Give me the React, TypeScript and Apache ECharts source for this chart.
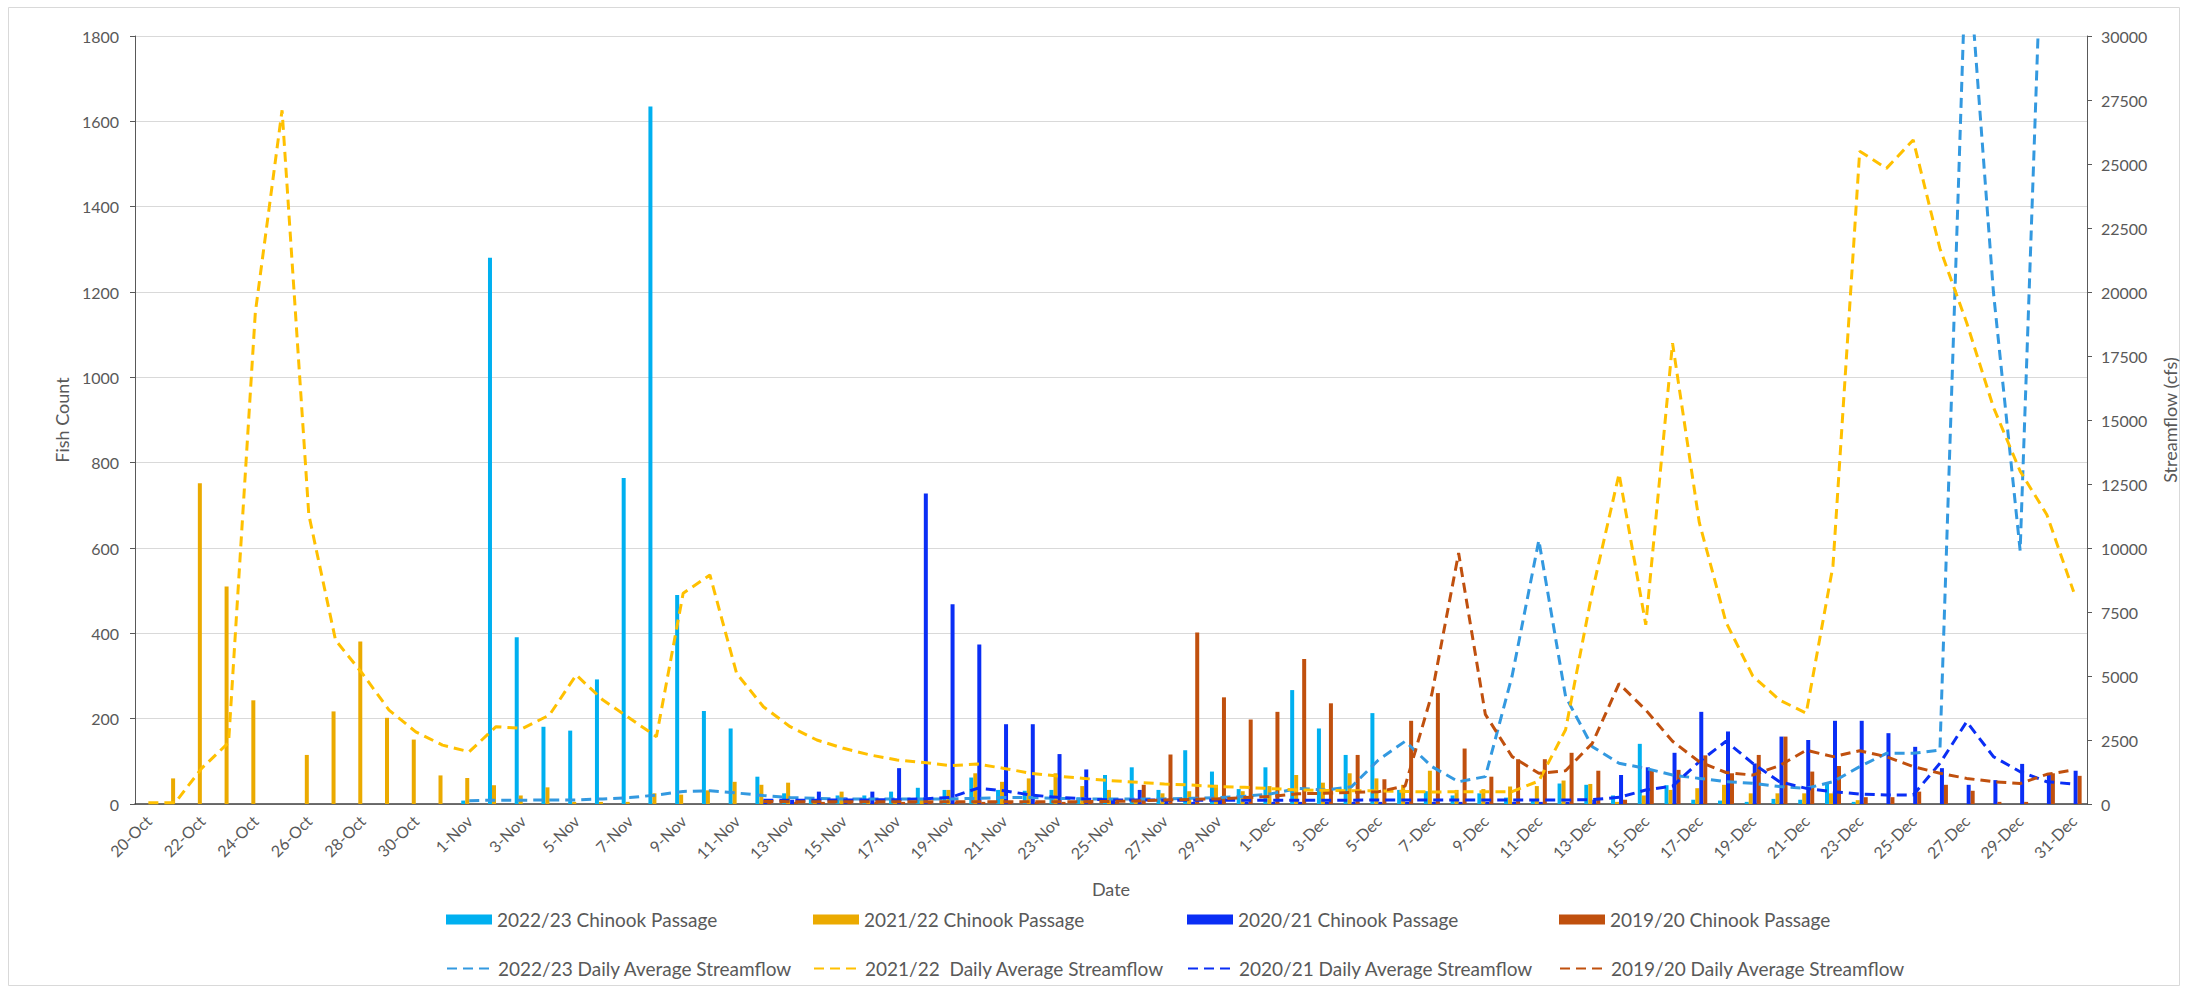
import React, { useEffect, useRef } from "react";
import * as echarts from "echarts";

const dates = [
  "20-Oct", "21-Oct", "22-Oct", "23-Oct", "24-Oct", "25-Oct", "26-Oct", "27-Oct", "28-Oct", "29-Oct", "30-Oct", "31-Oct",
  "1-Nov", "2-Nov", "3-Nov", "4-Nov", "5-Nov", "6-Nov", "7-Nov", "8-Nov", "9-Nov", "10-Nov", "11-Nov", "12-Nov",
  "13-Nov", "14-Nov", "15-Nov", "16-Nov", "17-Nov", "18-Nov", "19-Nov", "20-Nov", "21-Nov", "22-Nov", "23-Nov", "24-Nov",
  "25-Nov", "26-Nov", "27-Nov", "28-Nov", "29-Nov", "30-Nov",
  "1-Dec", "2-Dec", "3-Dec", "4-Dec", "5-Dec", "6-Dec", "7-Dec", "8-Dec", "9-Dec", "10-Dec", "11-Dec", "12-Dec",
  "13-Dec", "14-Dec", "15-Dec", "16-Dec", "17-Dec", "18-Dec", "19-Dec", "20-Dec", "21-Dec", "22-Dec", "23-Dec", "24-Dec",
  "25-Dec", "26-Dec", "27-Dec", "28-Dec", "29-Dec", "30-Dec", "31-Dec",
];

const N = null;

// Fish counts (left axis)
const passage2223 = [
  N, N, N, N, N, N, N, N, N, N, N, N,
  8, 1280, 391, 181, 172, 292, 764, 1635, 490, 218, 177, 64,
  25, 15, 20, 20, 29, 38, 33, 62, 33, 31, 33, 15,
  68, 86, 33, 126, 76, 35,
  86, 267, 177, 115, 213, 33, 30, 20, 25, 15, 10, 48,
  45, 20, 141, 44, 10, 8, 5, 12, 10, 50, 5, 0,
  0, 0, 0, 0, 0, 0, N,
];

const passage2122 = [
  0, 60, 752, 510, 243, 0, 115, 217, 381, 202, 151, 67,
  61, 44, 20, 39, 5, 5, 5, 25, 22, 32, 52, 45,
  50, 10, 29, 10, 8, 10, 33, 72, 52, 60, 72, 42,
  33, 10, 25, 30, 45, 30,
  42, 68, 50, 72, 60, 45, 78, 33, 35, 41, 42, 55,
  47, 5, 20, 33, 37, 45, 25, 25, 25, 25, 9, 0,
  0, 0, 0, 0, 0, 0, 0,
];

const passage2021 = [
  N, N, N, N, N, N, N, N, N, N, N, N,
  N, N, N, N, N, N, N, N, N, N, N, 5,
  10, 29, 15, 29, 84, 728, 468, 374, 187, 187, 117, 81,
  10, 33, 10, 5, 15, 5,
  5, 5, 5, 5, 5, 5, 5, 5, 5, 5, 5, 5,
  10, 68, 86, 120, 216, 170, 95, 158, 150, 195, 195, 166,
  134, 84, 45, 56, 94, 72, 78,
];

const passage1920 = [
  N, N, N, N, N, N, N, N, N, N, N, N,
  N, N, N, N, N, N, N, N, N, N, N, 5,
  5, 5, 5, 5, 5, 5, 5, 5, 5, 5, 5, 5,
  5, 45, 116, 402, 250, 198,
  216, 340, 236, 115, 58, 195, 260, 130, 64, 105, 105, 120,
  78, 10, 78, 80, 114, 72, 115, 158, 76, 89, 16, 16,
  29, 45, 31, 5, 5, 72, 66,
];

// Daily average streamflow, cfs (right axis)
const flow2223 = [
  N, N, N, N, N, N, N, N, N, N, N, N,
  130, 150, 150, 156, 156, 200, 250, 350, 490, 520, 430, 330,
  250, 220, 200, 200, 200, 200, 200, 220, 250, 250, 220, 200,
  200, 200, 200, 220, 250, 300,
  400, 612, 547, 677, 1720, 2450, 1460, 870, 1070, 5000, 10300, 4200,
  2240, 1590, 1390, 1130, 1000, 870, 810, 680, 612, 870, 1460, 1980,
  1980, 2110, 34000, 20000, 9900, 40000, N,
];

const flow2122 = [
  50, 50, 1400, 2400, 19200, 27100, 11300, 6400, 5100, 3670, 2820, 2300,
  2040, 3020, 2950, 3476, 5040, 4060, 3350, 2630, 8230, 8945, 5100, 3800,
  3020, 2500, 2175, 1914, 1720, 1620, 1500, 1560, 1390, 1200, 1090, 1000,
  910, 850, 780, 740, 680, 650,
  600, 550, 530, 520, 510, 490, 470, 480, 480, 480, 900, 2900,
  8300, 12900, 7000, 18000, 11000, 7100, 5000, 4060, 3550, 9300, 25500, 24830,
  25940, 21700, 18800, 15500, 13000, 11300, 8290,
];

const flow2021 = [
  N, N, N, N, N, N, N, N, N, N, N, N,
  N, N, N, N, N, N, N, N, N, N, N, 150,
  150, 150, 160, 160, 170, 200, 260, 612, 520, 350, 260, 200,
  160, 156, 150, 150, 150, 150,
  150, 150, 150, 150, 156, 156, 156, 156, 160, 160, 156, 156,
  170, 260, 547, 700, 1650, 2450, 1590, 870, 612, 482, 390, 352,
  352, 1590, 3215, 1850, 1260, 870, 780,
];

const flow1920 = [
  N, N, N, N, N, N, N, N, N, N, N, N,
  N, N, N, N, N, N, N, N, N, N, N, 100,
  90, 90, 90, 90, 90, 90, 90, 90, 90, 90, 90, 90,
  100, 120, 156, 180, 200, 250,
  300, 400, 417, 450, 482, 700, 4300, 9800, 3500, 1850, 1200, 1300,
  2370, 4700, 3670, 2450, 1650, 1230, 1130, 1500, 2100, 1850, 2080, 1850,
  1460, 1200, 1000, 870, 800, 1160, 1330,
];

const barNames = [
  "2022/23 Chinook Passage",
  "2021/22 Chinook Passage",
  "2020/21 Chinook Passage",
  "2019/20 Chinook Passage",
];
const lineNames = [
  "2022/23 Daily Average Streamflow",
  "2021/22  Daily Average Streamflow",
  "2020/21 Daily Average Streamflow",
  "2019/20 Daily Average Streamflow",
];
const barColors = ["#00B0F0", "#EBAA00", "#0A2EF5", "#C0500E"];
const lineColors = ["#3399E0", "#FFC000", "#0A2EF5", "#C0500E"];

const FONT = "Lato";
const TXT = "#595959";

export default function App() {
  const ref = useRef<HTMLDivElement>(null);

  useEffect(() => {
    if (!ref.current) return;
    const chart = echarts.init(ref.current, undefined, { renderer: "svg" });

    const barData = [passage2223, passage2122, passage2021, passage1920];
    const lineData = [flow2223, flow2122, flow2021, flow1920];

    const legendX = [446, 813, 1187, 1559];
    const legends: any[] = [];
    barNames.forEach((n, i) => {
      legends.push({
        data: [{ name: n, icon: "rect" }],
        left: legendX[i],
        top: 910,
        itemWidth: 46,
        itemHeight: 10,
        padding: 0,
        selectedMode: false,
        textStyle: { fontSize: 19, color: TXT, fontFamily: FONT },
      });
    });
    lineNames.forEach((n, i) => {
      legends.push({
        data: [{ name: n }],
        left: legendX[i],
        top: 959,
        itemWidth: 46,
        itemHeight: 14,
        padding: 0,
        selectedMode: false,
        itemStyle: { opacity: 0 },
        textStyle: { fontSize: 19, color: TXT, fontFamily: FONT },
      });
    });

    const series: any[] = [];
    barNames.forEach((n, i) => {
      series.push({
        name: n,
        type: "bar",
        yAxisIndex: 0,
        data: barData[i],
        barWidth: 4,
        barGap: "0%",
        itemStyle: { color: barColors[i] },
        z: 2,
      });
    });
    lineNames.forEach((n, i) => {
      series.push({
        name: n,
        type: "line",
        yAxisIndex: 1,
        data: lineData[i],
        symbol: "none",
        showSymbol: false,
        clip: true,
        connectNulls: false,
        lineStyle: { color: lineColors[i], width: 3, type: [10, 6], cap: "butt" },
        itemStyle: { color: lineColors[i] },
        z: 3 + i,
      });
    });

    const option: any = {
      animation: false,
      backgroundColor: "#ffffff",
      textStyle: { fontFamily: FONT },
      grid: { left: 135, right: 100, top: 36, bottom: 187, containLabel: false },
      graphic: [
        {
          type: "rect",
          shape: { x: 8.5, y: 7.5, width: 2171, height: 978 },
          style: { fill: "none", stroke: "#D9D9D9", lineWidth: 1 },
          silent: true,
          z: -1,
        },
      ],
      legend: legends,
      xAxis: {
        type: "category",
        data: dates,
        boundaryGap: true,
        axisLine: { lineStyle: { color: "#404040", width: 1.5 } },
        axisTick: { show: false },
        axisLabel: {
          interval: 1,
          rotate: 45,
          margin: 14,
          fontSize: 16,
          color: TXT,
          fontFamily: FONT,
        },
        name: "Date",
        nameLocation: "middle",
        nameGap: 76,
        nameTextStyle: { fontSize: 18, color: TXT, fontFamily: FONT },
        splitLine: { show: false },
      },
      yAxis: [
        {
          type: "value",
          min: 0,
          max: 1800,
          interval: 200,
          name: "Fish Count",
          nameLocation: "middle",
          nameGap: 61,
          nameRotate: 90,
          nameTextStyle: { fontSize: 18, color: TXT, fontFamily: FONT },
          axisLine: { show: true, lineStyle: { color: "#595959", width: 1 } },
          axisTick: { show: true, length: 5, lineStyle: { color: "#595959" } },
          axisLabel: {
            margin: 16,
            fontSize: 16,
            color: TXT,
            fontFamily: FONT,
            formatter: (v: number) => String(v),
          },
          splitLine: { show: true, lineStyle: { color: "#D9D9D9", width: 1 } },
        },
        {
          type: "value",
          min: 0,
          max: 30000,
          interval: 2500,
          position: "right",
          name: "Streamflow (cfs)",
          nameLocation: "middle",
          nameGap: 74,
          nameRotate: 90,
          nameTextStyle: { fontSize: 18, color: TXT, fontFamily: FONT },
          axisLine: { show: true, lineStyle: { color: "#595959", width: 1 } },
          axisTick: { show: true, length: 5, lineStyle: { color: "#595959" } },
          axisLabel: {
            margin: 14,
            fontSize: 16,
            color: TXT,
            fontFamily: FONT,
            formatter: (v: number) => String(v),
          },
          splitLine: { show: false },
        },
      ],
      series,
    };

    chart.setOption(option);
    return () => chart.dispose();
  }, []);

  return (
    <div
      ref={ref}
      style={{ position: "absolute", left: 0, top: 0, width: 2187, height: 991 }}
    />
  );
}
